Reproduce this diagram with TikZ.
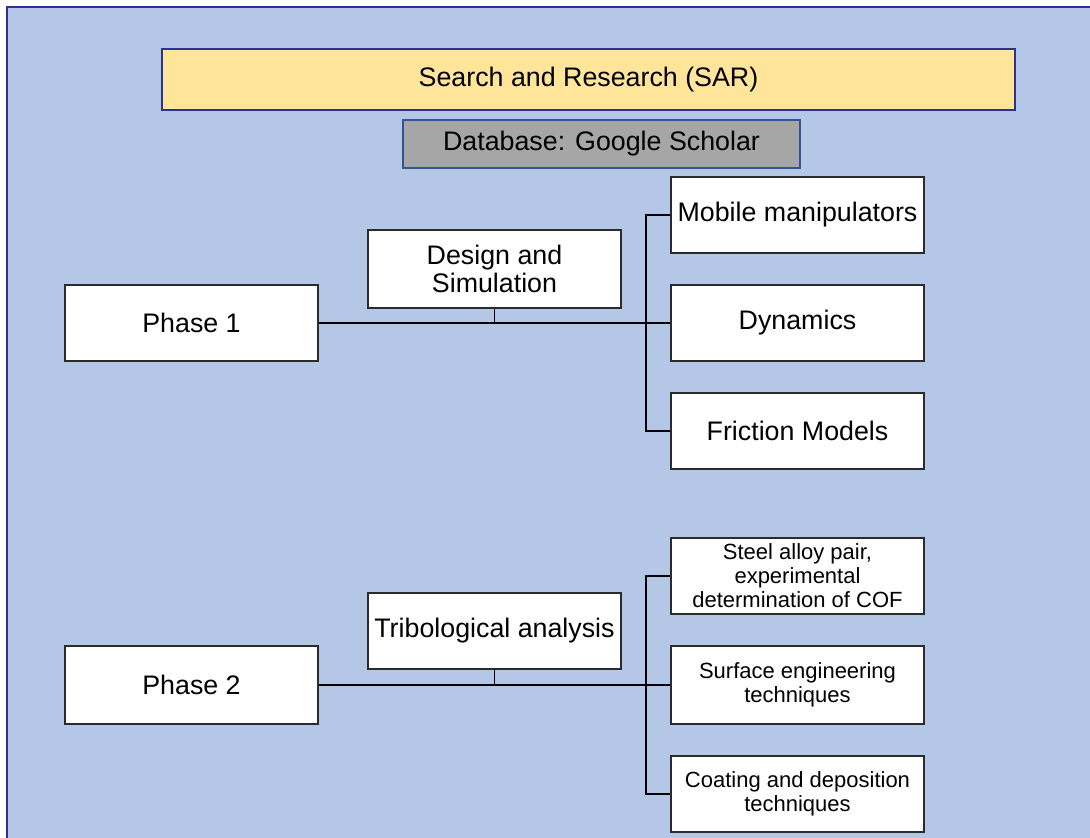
\documentclass[tikz,border=0pt]{standalone}
\usepackage{fontspec}
\setmainfont{Liberation Sans}
\definecolor{panel}{HTML}{B4C7E7}
\definecolor{panelline}{HTML}{2E3192}
\definecolor{titlefill}{HTML}{FFE599}
\definecolor{dbfill}{HTML}{A6A6A6}
\definecolor{dbline}{HTML}{2F5597}
\definecolor{boxline}{HTML}{2B2B2B}
\begin{document}
\begin{tikzpicture}[x=1pt,y=-1pt,
  box/.style={draw=boxline, line width=1.8pt, fill=white, inner sep=2pt,
    minimum width=253pt, minimum height=76pt, align=center,
    font=\fontsize{26.8}{28}\selectfont},
  smallbox/.style={box, font=\fontsize{22}{24}\selectfont},
  link/.style={draw=black, line width=1.9pt},
  mainlink/.style={draw=black, line width=2.5pt}]
\useasboundingbox (0,0) rectangle (1090,838);
% backdrop panel
\begin{scope}
\clip (0,0) rectangle (1090,838);
\draw[fill=panel, draw=panelline, line width=1.8pt] (7,7) rectangle (1100,850);
\end{scope}

% header boxes
\node[draw=panelline, fill=titlefill, line width=1.8pt, minimum width=853pt,
  minimum height=61pt, font=\fontsize{26.8}{28}\selectfont] (sar) at (588.5,79.5)
  {Search and Research (SAR)};
\node[draw=dbline, fill=dbfill, line width=1.8pt, minimum width=397pt,
  minimum height=48pt, font=\fontsize{26.8}{28}\selectfont] (db) at (601.5,144)
  {Database: Google Scholar};

% phase 1
\node[box] (p1) at (191.5,323) {Phase 1};
\node[box, minimum height=78pt] (ds) at (494.5,269) {Design and\\Simulation};
\node[box] (mm) at (797.5,215) {Mobile manipulators};
\node[box] (dyn) at (797.5,323) {Dynamics};
\node[box] (fm) at (797.5,431) {Friction Models};

\coordinate (j1) at (646,323);
\draw[mainlink] (p1.east) -- (j1);
\draw[link] (ds.south) -- (ds.south |- p1.east);
\draw[link] (mm.west) -- (mm.west -| j1) -- (fm.west -| j1) -- (fm.west);
\draw[link] (j1) -- (dyn.west);

% phase 2
\node[box, minimum height=78pt] (p2) at (191.5,685) {Phase 2};
\node[box] (tri) at (494.5,631) {Tribological analysis};
\node[smallbox] (sa) at (797.5,576) {Steel alloy pair,\\experimental\\determination of COF};
\node[smallbox, minimum height=78pt] (se) at (797.5,685) {Surface engineering\\techniques};
\node[smallbox] (cd) at (797.5,794) {Coating and deposition\\techniques};

\coordinate (j2) at (646,685);
\draw[mainlink] (p2.east) -- (j2);
\draw[link] (tri.south) -- (tri.south |- p2.east);
\draw[link] (sa.west) -- (sa.west -| j2) -- (cd.west -| j2) -- (cd.west);
\draw[link] (j2) -- (se.west);
\end{tikzpicture}
\end{document}
